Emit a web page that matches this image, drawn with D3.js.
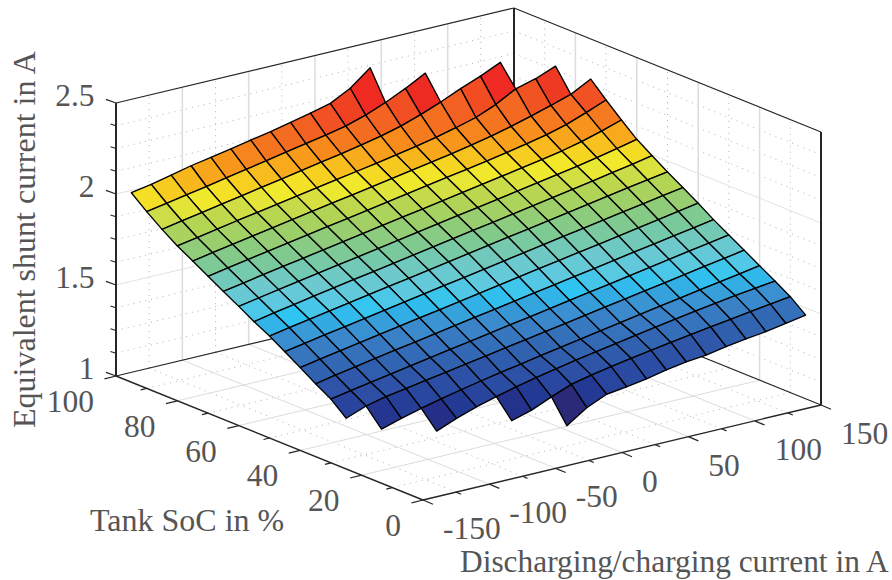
<!DOCTYPE html>
<html>
<head>
<meta charset="utf-8">
<script src="https://cdn.jsdelivr.net/npm/d3@7"></script>
<style>
  html, body { margin: 0; padding: 0; background: #fff; overflow: hidden; }
  svg { display: block; }
  text { font-family: "Liberation Serif", serif; fill: #555; }
</style>
</head>
<body>
<script>
"use strict";

var currents = [-150, -135, -120, -105, -90, -75, -60, -45, -30, -15, 0, 15, 30, 45, 60, 75, 90, 105, 120, 135, 150];

// shunt current per SoC row, empty where the cell was not measured
var soc5 = [null, null, null, null, null, null, null, null, 1.165, 1.238, 1.286, 1.301, 1.318, 1.341, 1.360, 1.371, 1.391, 1.407, 1.421, 1.441, 1.460];
var soc10 = [null, null, null, null, null, null, 1.211, 1.243, 1.290, 1.332, 1.357, 1.378, 1.397, 1.415, 1.432, 1.449, 1.465, 1.481, 1.497, 1.512, 1.527];
var soc15 = [null, null, null, 1.198, 1.242, 1.279, 1.309, 1.337, 1.362, 1.384, 1.405, 1.425, 1.444, 1.463, 1.482, 1.500, 1.518, 1.535, 1.551, 1.565, 1.579];
var soc20 = [null, 1.227, 1.260, 1.289, 1.315, 1.339, 1.361, 1.382, 1.402, 1.422, 1.442, 1.461, 1.480, 1.499, 1.518, 1.537, 1.555, 1.574, 1.592, 1.610, 1.629];
var soc25 = [1.279, 1.320, 1.345, 1.364, 1.382, 1.401, 1.419, 1.438, 1.457, 1.475, 1.494, 1.512, 1.531, 1.550, 1.568, 1.587, 1.605, 1.624, 1.643, 1.661, 1.680];
var soc30 = [1.350, 1.370, 1.390, 1.409, 1.428, 1.447, 1.466, 1.485, 1.504, 1.523, 1.541, 1.560, 1.579, 1.598, 1.617, 1.636, 1.655, 1.674, 1.693, 1.711, 1.730];
var soc35 = [1.400, 1.421, 1.441, 1.461, 1.480, 1.499, 1.518, 1.537, 1.556, 1.574, 1.593, 1.612, 1.631, 1.650, 1.668, 1.687, 1.706, 1.724, 1.743, 1.761, 1.780];
var soc40 = [1.455, 1.475, 1.495, 1.514, 1.533, 1.552, 1.571, 1.590, 1.609, 1.628, 1.647, 1.666, 1.685, 1.704, 1.723, 1.741, 1.760, 1.779, 1.798, 1.817, 1.836];
var soc45 = [1.508, 1.528, 1.548, 1.567, 1.586, 1.605, 1.624, 1.643, 1.662, 1.681, 1.700, 1.719, 1.738, 1.757, 1.776, 1.795, 1.814, 1.833, 1.851, 1.870, 1.888];
var soc50 = [1.560, 1.580, 1.600, 1.619, 1.638, 1.657, 1.676, 1.695, 1.714, 1.733, 1.752, 1.771, 1.790, 1.809, 1.828, 1.847, 1.866, 1.885, 1.904, 1.922, 1.940];
var soc55 = [1.605, 1.627, 1.647, 1.667, 1.686, 1.705, 1.724, 1.743, 1.762, 1.781, 1.800, 1.819, 1.838, 1.857, 1.876, 1.895, 1.914, 1.934, 1.954, 1.974, 1.995];
var soc60 = [1.655, 1.675, 1.695, 1.714, 1.733, 1.752, 1.771, 1.790, 1.809, 1.828, 1.847, 1.866, 1.885, 1.904, 1.923, 1.942, 1.961, 1.981, 2.002, 2.026, 2.051];
var soc65 = [1.703, 1.723, 1.743, 1.762, 1.781, 1.800, 1.819, 1.838, 1.857, 1.876, 1.895, 1.914, 1.933, 1.952, 1.971, 1.990, 2.010, 2.031, 2.056, 2.088, 2.123];
var soc70 = [1.752, 1.772, 1.792, 1.811, 1.830, 1.849, 1.868, 1.887, 1.906, 1.925, 1.944, 1.963, 1.982, 2.001, 2.020, 2.040, 2.062, 2.086, 2.116, 2.156, 2.199];
var soc75 = [1.802, 1.822, 1.842, 1.861, 1.880, 1.899, 1.918, 1.937, 1.956, 1.975, 1.994, 2.013, 2.032, 2.052, 2.073, 2.097, 2.124, 2.155, 2.187, 2.222, 2.280];
var soc80 = [1.851, 1.871, 1.891, 1.911, 1.930, 1.949, 1.968, 1.987, 2.006, 2.025, 2.044, 2.064, 2.085, 2.108, 2.135, 2.165, 2.210, 2.270, 2.300, 2.343, null];
var soc85 = [1.908, 1.928, 1.948, 1.968, 1.988, 2.008, 2.028, 2.048, 2.068, 2.088, 2.110, 2.133, 2.162, 2.199, 2.242, 2.290, 2.332, 2.382, null, null, null];
var soc90 = [1.971, 1.991, 2.011, 2.031, 2.052, 2.073, 2.094, 2.115, 2.136, 2.157, 2.180, 2.214, 2.258, 2.309, 2.367, null, null, null, null, null, null];
var soc95 = [2.041, 2.061, 2.086, 2.111, 2.131, 2.151, 2.174, 2.194, 2.219, 2.243, 2.271, 2.328, 2.415, null, null, null, null, null, null, null, null];

var socLevels = [5, 10, 15, 20, 25, 30, 35, 40, 45, 50, 55, 60, 65, 70, 75, 80, 85, 90, 95];
var socRows = [soc5, soc10, soc15, soc20, soc25, soc30, soc35, soc40, soc45, soc50, soc55, soc60, soc65, soc70, soc75, soc80, soc85, soc90, soc95];

var currentTicks = [-150, -100, -50, 0, 50, 100, 150];
var currentMinor = [-125, -75, -25, 25, 75, 125];
var socTicks = [0, 20, 40, 60, 80, 100];
var socMinor = [10, 30, 50, 70, 90];
var zTicks = [1, 1.5, 2, 2.5];
var zTickLabels = ["1", "1.5", "2", "2.5"];
var zMinor = [1.125, 1.25, 1.375, 1.625, 1.75, 1.875, 2.125, 2.25, 2.375];

var colorZ = [1.165, 1.2, 1.25, 1.3, 1.36, 1.42, 1.48, 1.52, 1.55, 1.58, 1.62, 1.67, 1.72, 1.77, 1.82, 1.88, 1.91, 1.94, 1.96, 1.98, 2.0, 2.02, 2.05, 2.09, 2.13, 2.16, 2.18, 2.2];
var colorHex = ["#2a2a78", "#262f88", "#233c96", "#2b4aa2", "#2e55a8", "#3268b4", "#3a80c6", "#3a94d3", "#33ace3", "#2fc4f1", "#5cc9e1", "#6cc9ce", "#74c9ae", "#82ca8a", "#98ce6e", "#b8d650", "#cfdd46", "#eee92f", "#f3e82a", "#f5d622", "#f7c41f", "#f8af1c", "#f8981c", "#f5771f", "#f36522", "#f24f23", "#f04223", "#ee2a22"];

var width = 892,
    height = 580;

var svg = d3.select("body").append("svg").attr("width", width).attr("height", height);

// Fixed orthographic view: each data axis moves the point along its own screen direction
var iX = d3.scaleLinear().domain([-150, 150]).range([0, 398]);
var iY = d3.scaleLinear().domain([-150, 150]).range([0, -95]);
var sX = d3.scaleLinear().domain([0, 100]).range([423, 116]);
var sY = d3.scaleLinear().domain([0, 100]).range([500, 376]);
var zY = d3.scaleLinear().domain([1, 2.5]).range([0, -273]);

var color = d3.scaleLinear().domain(colorZ).range(colorHex).clamp(true);

function px(i, s) {
  return sX(s) + iX(i);
}
function py(i, s, z) {
  return sY(s) + iY(i) + zY(z);
}
var path3 = d3.line().x(function (d) {
  return px(d[0], d[1]);
}).y(function (d) {
  return py(d[0], d[1], d[2]);
});

function seg(g, a, b, stroke, w, dash) {
  g.append("path").attr("d", path3([a, b])).attr("fill", "none").attr("stroke", stroke).attr("stroke-width", w).attr("stroke-dasharray", dash || null);
}

//Walls and floor grid
var grid = svg.append("g").attr("class", "grid");
var dots = "1 5";
currentMinor.forEach(function (i) {
  seg(grid, [i, 100, 1], [i, 100, 2.5], "#b0b0b0", 1, dots);
  seg(grid, [i, 0, 1], [i, 100, 1], "#b0b0b0", 1, dots);
});
socMinor.forEach(function (s) {
  seg(grid, [150, s, 1], [150, s, 2.5], "#b0b0b0", 1, dots);
  seg(grid, [-150, s, 1], [150, s, 1], "#b0b0b0", 1, dots);
});
zMinor.forEach(function (z) {
  seg(grid, [-150, 100, z], [150, 100, z], "#b0b0b0", 1, dots);
  seg(grid, [150, 100, z], [150, 0, z], "#b0b0b0", 1, dots);
});
currentTicks.slice(1, -1).forEach(function (i) {
  seg(grid, [i, 100, 1], [i, 100, 2.5], "#dcdcdc", 1.5);
  seg(grid, [i, 0, 1], [i, 100, 1], "#dcdcdc", 1);
});
socTicks.slice(1, -1).forEach(function (s) {
  seg(grid, [150, s, 1], [150, s, 2.5], "#dcdcdc", 1.5);
  seg(grid, [-150, s, 1], [150, s, 1], "#dcdcdc", 1);
});
zTicks.slice(1, -1).forEach(function (z) {
  seg(grid, [-150, 100, z], [150, 100, z], "#e2e2e2", 1);
  seg(grid, [150, 100, z], [150, 0, z], "#e2e2e2", 1);
});

//Box edges
var box = svg.append("g").attr("class", "box");
var ink = "#262626";
seg(box, [-150, 100, 2.5], [150, 100, 2.5], ink, 1.2);
seg(box, [150, 100, 2.5], [150, 0, 2.5], ink, 1.2);
seg(box, [-150, 100, 1], [150, 100, 1], ink, 1.2);
seg(box, [150, 100, 1], [150, 0, 1], ink, 1.2);
seg(box, [-150, 100, 1], [-150, 100, 2.5], ink, 2);
seg(box, [150, 100, 1], [150, 100, 2.5], ink, 2);
seg(box, [150, 0, 1], [150, 0, 2.5], ink, 2);
seg(box, [-150, 100, 1], [-150, 0, 1], ink, 1.4);
seg(box, [-150, 0, 1], [150, 0, 1], ink, 1.4);

//Surface, far cells first
var cells = [];
for (var r = socLevels.length - 2; r >= 0; r--) {
  for (var c = currents.length - 2; c >= 0; c--) {
    var a = socRows[r][c], b = socRows[r][c + 1], e = socRows[r + 1][c + 1], f = socRows[r + 1][c];
    if (a === null || b === null || e === null || f === null) continue;
    cells.push({
      z: a,
      pts: [[currents[c], socLevels[r], a], [currents[c + 1], socLevels[r], b], [currents[c + 1], socLevels[r + 1], e], [currents[c], socLevels[r + 1], f]]
    });
  }
}
svg.append("g").attr("class", "surface").selectAll("path").data(cells).enter().append("path").attr("d", function (d) {
  return path3(d.pts) + "Z";
}).attr("fill", function (d) {
  return color(d.z);
}).attr("stroke", "#000").attr("stroke-width", 1.35).attr("stroke-linejoin", "round");

//Ticks
var ticks = svg.append("g").attr("class", "ticks");
function tick(x, y, dx, dy, w) {
  ticks.append("line").attr("x1", x).attr("y1", y).attr("x2", x + dx).attr("y2", y + dy).attr("stroke", ink).attr("stroke-width", w);
}
zTicks.forEach(function (z) {
  tick(px(-150, 100), py(-150, 100, z), -10, -3.6, 1.2);
});
zMinor.forEach(function (z) {
  tick(px(-150, 100), py(-150, 100, z), -5.5, -1.8, 1.2);
});
socTicks.forEach(function (s) {
  tick(px(-150, s), py(-150, s, 1), -11.5, 2.8, 1.2);
});
socMinor.forEach(function (s) {
  tick(px(-150, s), py(-150, s, 1), -6, 1.5, 1.2);
});
currentTicks.forEach(function (i) {
  tick(px(i, 0), py(i, 0, 1), 10, 4.2, 1.2);
});
currentMinor.forEach(function (i) {
  tick(px(i, 0), py(i, 0, 1), 5, 2.1, 1.2);
});

//Tick labels
var labels = svg.append("g").attr("class", "tick-labels").style("font-size", "31.5px");
zTicks.forEach(function (z, n) {
  labels.append("text").attr("x", px(-150, 100) - 21.5).attr("y", py(-150, 100, z) + 3).attr("text-anchor", "end").text(zTickLabels[n]);
});
socTicks.forEach(function (s) {
  labels.append("text").attr("x", px(-150, s) - 22).attr("y", py(-150, s, 1) + 36).attr("text-anchor", "end").text(s);
});
currentTicks.forEach(function (i) {
  labels.append("text").attr("x", px(i, 0) + 20).attr("y", py(i, 0, 1) + 39).attr("text-anchor", "start").text(i);
});

//Axis titles
svg.append("text").attr("transform", "translate(34.5,428) rotate(-90)").style("font-size", "32px").text("Equivalent shunt current in A");
svg.append("text").attr("x", 90).attr("y", 531).style("font-size", "32px").text("Tank SoC in %");
svg.append("text").attr("x", 460).attr("y", 572).style("font-size", "31.4px").text("Discharging/charging current in A");
</script>
</body>
</html>
